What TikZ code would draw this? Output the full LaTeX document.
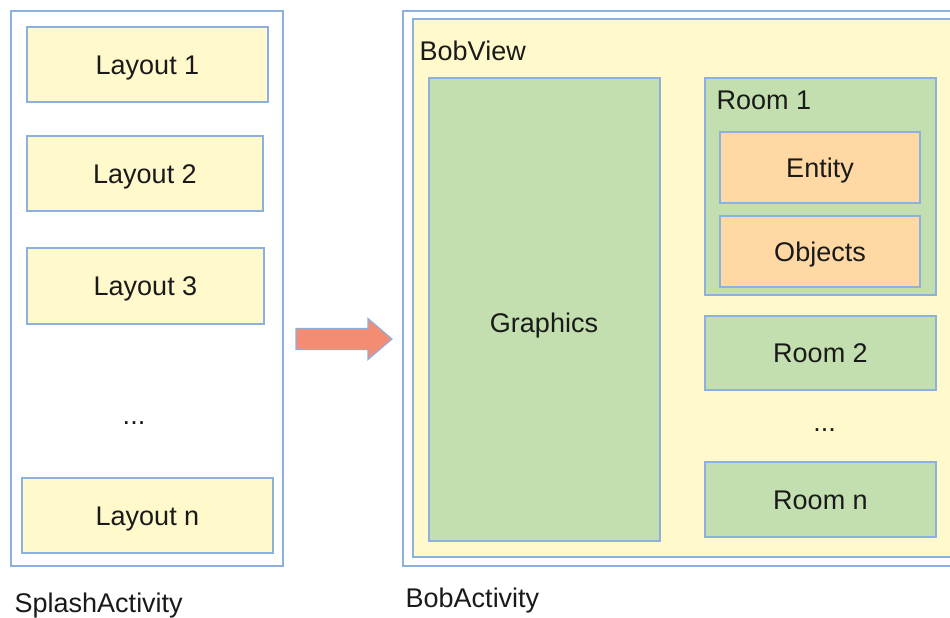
\documentclass[tikz,border=0pt]{standalone}
\usepackage{fontspec}
\setmainfont{Liberation Sans}
\definecolor{edgeblue}{HTML}{8DB1DE}
\definecolor{paleyellow}{HTML}{FFF9CC}
\definecolor{palegreen}{HTML}{C4DFAF}
\definecolor{peach}{HTML}{FFD8A3}
\definecolor{salmon}{HTML}{F38C72}
\definecolor{inkgray}{HTML}{1A1A1A}
\tikzset{
  px/.style={x=1pt,y=-1pt},
  frame/.style={draw=edgeblue,line width=1.8pt,fill=white,inner sep=0pt,rectangle},
  yellowbox/.style={frame,fill=paleyellow},
  greenbox/.style={frame,fill=palegreen},
  peachbox/.style={frame,fill=peach},
  txt/.style={font=\fontsize{27}{31}\selectfont,text=inkgray,inner sep=0pt,
              text height=19.3pt,text depth=0pt},
  sizebox/.style 2 args={minimum width=#1pt,minimum height=#2pt}
}
\begin{document}
\begin{tikzpicture}[px]
\useasboundingbox (0,0) rectangle (950,618);
\fill[white] (0,0) rectangle (950,618);
\begin{scope}
\clip (0,0) rectangle (950,618);

% Splash activity column
\node[frame,sizebox={272}{555}] (splash) at (147,288.5) {};
\node[yellowbox,sizebox={241}{75},txt] (lay1) at (147.5,64.5) {Layout 1};
\node[yellowbox,sizebox={236}{75},txt] (lay2) at (145,173.5) {Layout 2};
\node[yellowbox,sizebox={237}{76},txt] (lay3) at (145.5,286) {Layout 3};
\node[txt,anchor=base] (laydots) at (134,424.5) {...};
\node[yellowbox,sizebox={251}{75},txt] (layn) at (147.5,515.5) {Layout n};
\node[txt,anchor=base west] (splashlbl) at (14.5,612) {SplashActivity};

% Bob activity with its view
\node[frame,sizebox={557}{555}] (bob) at (681.5,288.5) {};
\node[yellowbox,sizebox={542}{538}] (bobview) at (684,288) {};
\node[txt,anchor=base west] (bobviewlbl) at (419.5,60) {BobView};
\node[greenbox,sizebox={231}{463}] (graphics) at (544.5,309.5) {};
\node[txt,anchor=base] (graphicslbl) at (544,332) {Graphics};
\node[greenbox,sizebox={231}{217}] (room1) at (820.5,186.5) {};
\node[txt,anchor=base west] (room1lbl) at (716.5,109) {Room 1};
\node[peachbox,sizebox={200}{71},txt] (entity) at (820,167.5) {Entity};
\node[peachbox,sizebox={200}{71},txt] (objects) at (820,251.5) {Objects};
\node[greenbox,sizebox={231}{74},txt] (room2) at (820.5,353) {Room 2};
\node[txt,anchor=base] (roomdots) at (824.5,431) {...};
\node[greenbox,sizebox={231}{75},txt] (roomn) at (820.5,499.5) {Room n};
\node[txt,anchor=base west] (boblbl) at (405.5,607) {BobActivity};

% Block arrow from the splash screen to the main activity
\coordinate (arrowtail) at (296,339);
\draw[draw=edgeblue,line width=1.2pt,fill=salmon,line join=miter]
  (arrowtail) ++(0,-10.5) -- ++(72,0) -- ++(0,-10) -- ++(24,20.5)
  -- ++(-24,20.5) -- ++(0,-10) -- ++(-72,0) -- cycle;
\end{scope}
\end{tikzpicture}
\end{document}
